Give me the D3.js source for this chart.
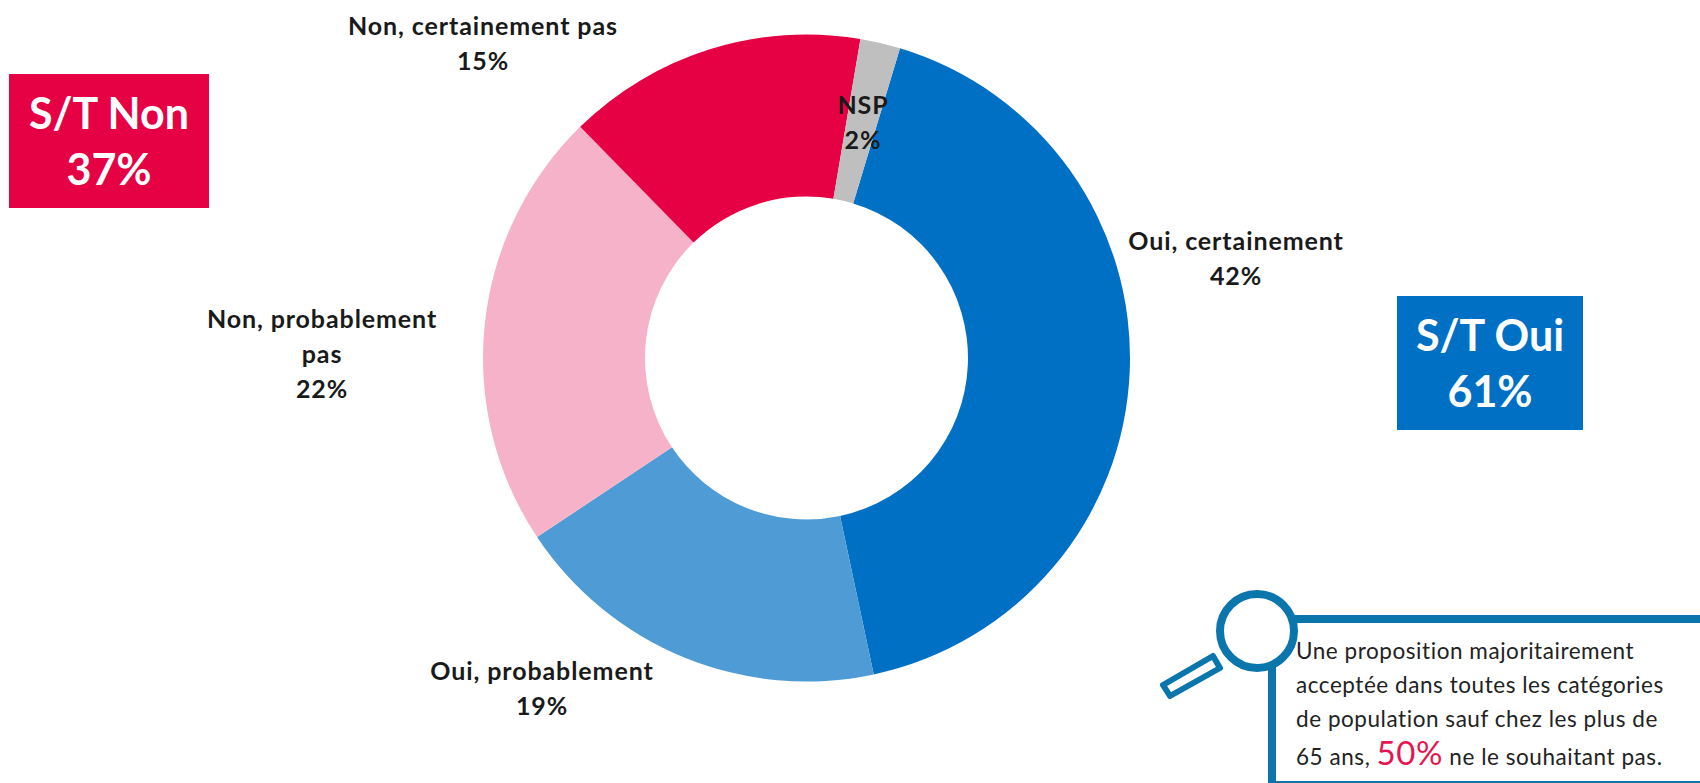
<!DOCTYPE html>
<html><head><meta charset="utf-8">
<script src="https://cdnjs.cloudflare.com/ajax/libs/d3/7.8.5/d3.min.js"></script>
<style>html,body{margin:0;padding:0;background:#fff}svg{display:block}text{font-family:Lato,sans-serif}</style>
</head><body><svg id="c" width="1700" height="783"></svg>
<script>
const categories = ["Oui, certainement","Oui, probablement","Non, probablement pas","Non, certainement pas","NSP"];
const values = [42,19,22,15,2];
const colors = ["#0070c4","#4f9bd5","#f6b2c8","#e60044","#bfbfbf"];
const labelLines = [["Oui, certainement"],["Oui, probablement"],["Non, probablement","pas"],["Non, certainement pas"],["NSP"]];
const labelAnchors = [[1236,241],[542,671],[322,319],[483,26],[863,105]];
const totals = [{t:"S/T Non",v:"37%",c:"#e60044",b:[9,74,200,134]},{t:"S/T Oui",v:"61%",c:"#0070c4",b:[1397,296,186,134]}];
const noteLines = ["Une proposition majoritairement","acceptée dans toutes les catégories","de population sauf chez les plus de"];

const svg = d3.select("#c");
const cx=806.5, cy=358, R=323.5, r=161.5;
const pie = d3.pie().sort(null).startAngle(16.8*Math.PI/180).endAngle((360+16.8)*Math.PI/180);
const arc = d3.arc().innerRadius(r).outerRadius(R);
svg.append("g").attr("transform",`translate(${cx},${cy})`).selectAll("path").data(pie(values)).join("path")
  .attr("d",arc).attr("fill",(d,i)=>colors[i]);

const lh=35;
labelLines.forEach((lines,i)=>{
  const [x,y]=labelAnchors[i];
  const t=svg.append("text").attr("text-anchor","middle").attr("font-size",25).attr("letter-spacing",0.9).attr("font-weight",700).attr("fill","#1a1a1a");
  lines.concat([values[i]+"%"]).forEach((s,k)=>t.append("tspan").attr("x",x).attr("y",y+k*lh).attr("dy","0.35em").text(s));
});

totals.forEach(d=>{
  const [x,y,w,h]=d.b;
  svg.append("rect").attr("x",x).attr("y",y).attr("width",w).attr("height",h).attr("fill",d.c);
  [d.t,d.v].forEach((s,k)=>svg.append("text").attr("x",x+w/2).attr("y",y+40+k*56).attr("dy","0.35em")
    .attr("text-anchor","middle").attr("font-size",43).attr("font-weight",700).attr("fill","#fff").text(s));
});

const blue="#0b76ab";
svg.append("path").attr("d","M1272 783V619H1700").attr("fill","none").attr("stroke",blue).attr("stroke-width",8);
svg.append("line").attr("x1",1272).attr("x2",1700).attr("y1",782).attr("y2",782).attr("stroke",blue).attr("stroke-width",2);
svg.append("circle").attr("cx",1257).attr("cy",631).attr("r",37).attr("fill","#fff").attr("stroke",blue).attr("stroke-width",8);
svg.append("path").attr("d","M1163 685L1213 656L1220 668L1170 696Z").attr("fill","#fff").attr("stroke",blue).attr("stroke-width",6).attr("stroke-linejoin","round");

const noteFont={size:22.5,spacing:0.55};
noteLines.forEach((s,i)=>svg.append("text").attr("x",1296).attr("y",651+i*34).attr("dy","0.35em").attr("font-size",noteFont.size).attr("letter-spacing",noteFont.spacing).attr("fill","#222").text(s));
const last=svg.append("text").attr("x",1296).attr("y",757).attr("dy","0.35em").attr("font-size",noteFont.size).attr("letter-spacing",noteFont.spacing).attr("fill","#222");
last.append("tspan").text("65 ans, ");
last.append("tspan").attr("font-size",33).attr("fill","#e6144f").text("50%");
last.append("tspan").text(" ne le souhaitant pas.");
</script></body></html>
